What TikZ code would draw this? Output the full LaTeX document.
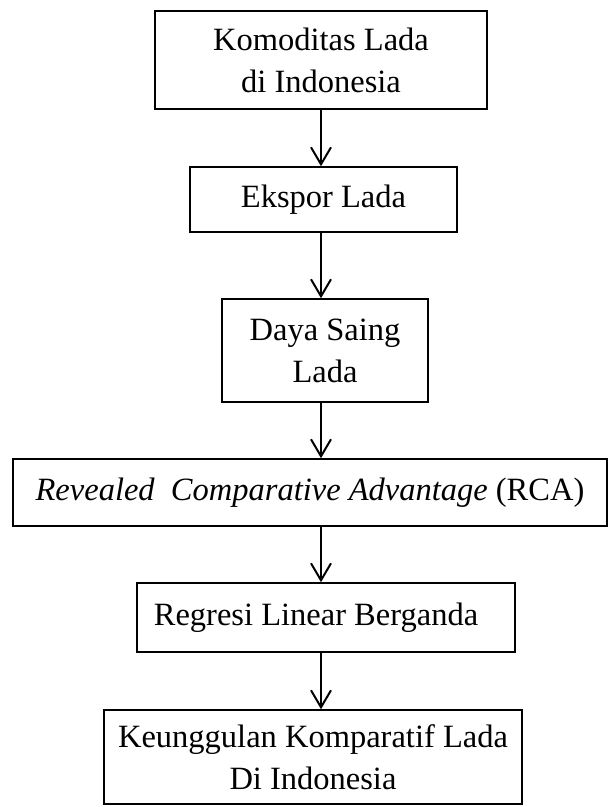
\documentclass[tikz,border=0pt]{standalone}
\usepackage{fontspec}
\setmainfont{Liberation Serif}
\usetikzlibrary{arrows.meta}
\begin{document}
\begin{tikzpicture}[x={(1pt,0pt)}, y={(0pt,-1pt)},
  box/.style={draw, line width=1.5pt, rectangle, inner sep=0pt, align=center,
    font=\fontsize{32.5}{42}\selectfont},
  arr/.style={-{Straight Barb[length=17pt,width=20pt,line width=2pt]}, line width=2pt}]
\useasboundingbox (0,0) rectangle (609,807);
\coordinate (ax) at (321,0);
\node[box, minimum width=332pt, minimum height=98pt] (n1) at (321,60) {Komoditas Lada\\di Indonesia};
\node[box, minimum width=267pt, minimum height=65pt] (n2) at (323.5,199.5) {Ekspor Lada};
\node[box, minimum width=206pt, minimum height=103pt] (n3) at (325,350.5) {Daya Saing\\Lada};
\node[box, minimum width=594pt, minimum height=67pt] (n4) at (310,492.5) {\textit{Revealed\ \ Comparative Advantage} (RCA)};
\node[box, minimum width=378pt, minimum height=69pt] (n5) at (326,617.5) {Regresi Linear Berganda\hspace*{20pt}};
\node[box, minimum width=418pt, minimum height=94pt] (n6) at (313,757) {Keunggulan Komparatif Lada\\Di Indonesia};
\draw[arr] (ax |- n1.south) -- (ax |- n2.north);
\draw[arr] (ax |- n2.south) -- (ax |- n3.north);
\draw[arr] (ax |- n3.south) -- (ax |- n4.north);
\draw[arr] (ax |- n4.south) -- (ax |- n5.north);
\draw[arr] (ax |- n5.south) -- (ax |- n6.north);
\end{tikzpicture}
\end{document}
